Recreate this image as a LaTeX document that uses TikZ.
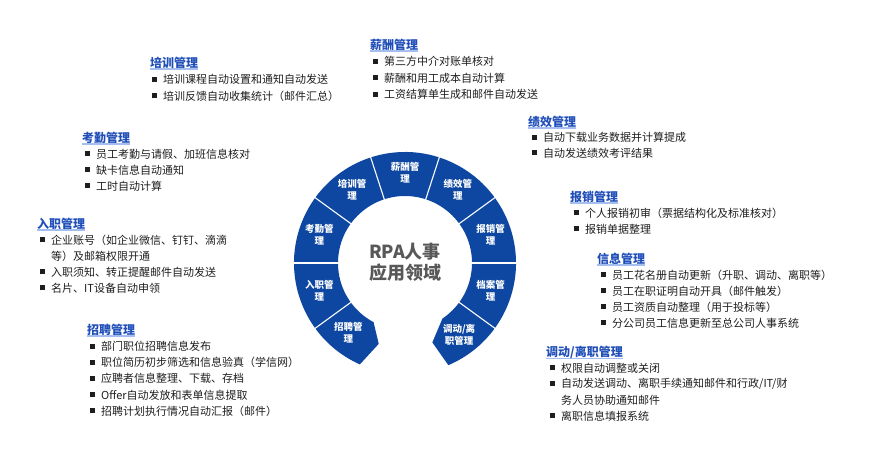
\documentclass[tikz,border=0pt]{standalone}
\usepackage{fontspec}
\setmainfont{Noto Sans CJK SC}
\usetikzlibrary{positioning,calc}
\definecolor{cring}{RGB}{13,71,161}
\definecolor{chead}{RGB}{32,78,184}
\definecolor{cline}{RGB}{165,190,240}
\definecolor{ctext}{RGB}{30,30,30}
\definecolor{ccore}{RGB}{88,88,88}
\newcommand{\bsq}{\makebox[11pt][l]{\rule[1.8pt]{5pt}{5pt}}}

\begin{document}
\begin{tikzpicture}[x=1pt,y=-1pt,
  head/.style={font=\fontsize{12}{14}\selectfont\bfseries,text=chead,inner sep=0pt,anchor=west},
  txt/.style={font=\fontsize{11}{13}\selectfont,text=ctext,inner sep=0pt,anchor=west},
  item/.style={txt,execute at begin node=\bsq},
  more/.style={txt,xshift=11pt},
  seg/.style={font=\fontsize{9.5}{12}\selectfont\bfseries,text=white,align=center,inner sep=0pt},
  uline/.style={cline,line width=1.3pt}]
\useasboundingbox (0,0) rectangle (889,462);

% ===== ring =====
\begin{scope}[shift={(405,263)}]
\fill[cring] (246:111pt) arc[start angle=246,end angle=-67,radius=111pt] -- (-71:84pt) -- (-56:67pt)
  arc[start angle=-56,end angle=242,radius=67pt] -- (252:85pt) -- cycle;
\foreach \a in {216,180,144,108,72,36,0,-36}{\draw[white,line width=1.1pt] (\a:66pt) -- (\a:112pt);}
\foreach \a/\t [count=\i] in {231/招聘管\\理,198/入职管\\理,162/考勤管\\理,126/培训管\\理,90/薪酬管\\理,
  54/绩效管\\理,18/报销管\\理,-18/档案管\\理,-53/{调动/离\\职管理}}
  {\node[seg] (seg\i) at (\a:90pt) {\t};}
\node[font=\fontsize{18}{21}\selectfont\bfseries,text=ccore,align=center] (core) at (0,-1) {RPA人事\\应用领域};
\end{scope}

% ===== left side =====
\node[head] (hpx) at (150,63) {培训管理};
\foreach \t [count=\i] in {培训课程自动设置和通知自动发送,培训反馈自动收集统计（邮件汇总）}
  {\node[item] (px\i) at ($(hpx.west)+(2,16.5*\i)$) {\t};}

\node[head] (hkq) at (82,138) {考勤管理};
\foreach \t [count=\i] in {员工考勤与请假、加班信息核对,缺卡信息自动通知,工时自动计算}
  {\node[item] (kq\i) at ($(hkq.west)+(3,16*\i)$) {\t};}

\node[head] (hrz) at (37,224) {入职管理};
\foreach \s/\t [count=\i] in {item/企业账号（如企业微信、钉钉、滴滴,more/等）及邮箱权限开通,
  item/入职须知、转正提醒邮件自动发送,item/名片、IT设备自动申领}
  {\node[\s] (rz\i) at ($(hrz.west)+(3,16*\i)$) {\t};}

\node[head] (hzp) at (87,330) {招聘管理};
\foreach \t [count=\i] in {部门职位招聘信息发布,职位简历初步筛选和信息验真（学信网）,
  应聘者信息整理、下载、存档,Offer自动发放和表单信息提取,招聘计划执行情况自动汇报（邮件）}
  {\node[item] (zp\i) at ($(hzp.west)+(3,16.2*\i)$) {\t};}

% ===== right side =====
\node[head] (hxc) at (370,45) {薪酬管理};
\foreach \t [count=\i] in {第三方中介对账单核对,薪酬和用工成本自动计算,工资结算单生成和邮件自动发送}
  {\node[item] (xc\i) at ($(hxc.west)+(3,16.5*\i)$) {\t};}

\node[head] (hjx) at (528,122) {绩效管理};
\foreach \t [count=\i] in {自动下载业务数据并计算提成,自动发送绩效考评结果}
  {\node[item] (jx\i) at ($(hjx.west)+(4,15.5*\i)$) {\t};}

\node[head] (hbx) at (570,197) {报销管理};
\foreach \t [count=\i] in {个人报销初审（票据结构化及标准核对）,报销单据整理}
  {\node[item] (bx\i) at ($(hbx.west)+(4,16*\i)$) {\t};}

\node[head] (hxx) at (597,259) {信息管理};
\foreach \t [count=\i] in {员工花名册自动更新（升职、调动、离职等）,员工在职证明自动开具（邮件触发）,
  员工资质自动整理（用于投标等）,分公司员工信息更新至总公司人事系统}
  {\node[item] (xx\i) at ($(hxx.west)+(4,16*\i)$) {\t};}

\node[head] (hdd) at (546,352) {调动/离职管理};
\foreach \s/\t [count=\i] in {item/权限自动调整或关闭,item/{自动发送调动、离职手续通知邮件和行政/IT/财},
  more/务人员协助通知邮件,item/离职信息填报系统}
  {\node[\s] (dd\i) at ($(hdd.west)+(4,16*\i)$) {\t};}

% heading underlines
\foreach \h in {px,kq,rz,zp,xc,jx,bx,xx,dd}
  {\draw[uline] (h\h.south west) -- (h\h.south east);}
\end{tikzpicture}
\end{document}
